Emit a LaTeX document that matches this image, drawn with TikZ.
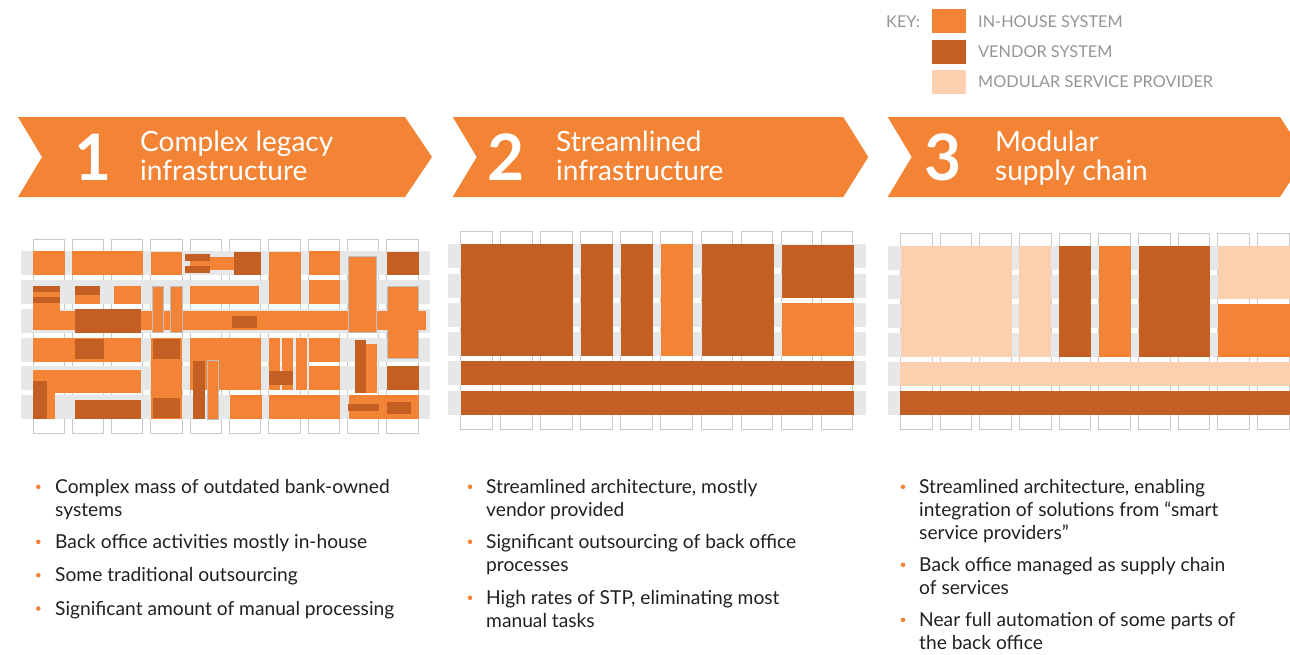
\documentclass[tikz,border=0pt]{standalone}
\usepackage{fontspec}
\setmainfont{Lato}
\definecolor{inh}{HTML}{F48435}
\definecolor{ven}{HTML}{C45F24}
\definecolor{mod}{HTML}{FCD0AE}
\definecolor{band}{HTML}{E6E7E8}
\definecolor{colline}{HTML}{CACACA}
\definecolor{outl}{HTML}{BDBDBD}
\definecolor{keygray}{HTML}{939598}
\definecolor{txt}{HTML}{231F20}
\newcommand\rc[5]{\fill[#1] (#2,#3) rectangle (#4,#5);}
\newcommand\ro[4]{\filldraw[fill=inh,draw=outl,line width=1] (#1,#2) rectangle (#3,#4);}
\begin{document}
\begin{tikzpicture}[x=1pt,y=-1pt,
  colbox/.style={draw=colline,fill=white,line width=1},
  banner/.style={fill=inh},
  digit/.style={text=white,font=\fontsize{64}{64}\selectfont\bfseries,inner sep=0,anchor=base west},
  title/.style={text=white,font=\fontsize{28}{29}\selectfont,align=left,inner sep=0,anchor=base west},
  keylabel/.style={text=keygray,font=\fontsize{16.3}{20}\selectfont,inner sep=0,anchor=base west},
  bul/.style={text=txt,font=\fontsize{19.2}{23}\selectfont,align=left,inner sep=0,anchor=base west},
  dot/.style={circle,fill=inh,inner sep=0,minimum size=4.6}]
\useasboundingbox (0,0) rectangle (1290,654);
% ---------- key
\node[keylabel] (key) at (886,27.3) {KEY:};
\fill[inh] (932,9) rectangle (966,33);
\fill[ven] (932,39.5) rectangle (966,63.5);
\fill[mod] (932,70) rectangle (966,94);
\node[keylabel] (k1) at (978,27.3) {IN-HOUSE SYSTEM};
\node[keylabel] (k2) at (978,57.6) {VENDOR SYSTEM};
\node[keylabel] (k3) at (978,87.6) {MODULAR SERVICE PROVIDER};
% ---------- banners
\fill[banner] (18,117) -- (405,117) -- (432,157) -- (405,197) -- (18,197) -- (42,157) -- cycle;
\fill[banner] (452.7,117) -- (843.3,117) -- (868.3,157) -- (843.3,197) -- (452.7,197) -- (476.7,157) -- cycle;
\fill[banner] (887.7,117) -- (1280,117) -- (1306,157) -- (1280,197) -- (887.7,197) -- (911.7,157) -- cycle;
\node[digit] (d1) at (74,180.7) {1};
\node[title] (t1) at (140,180.7) {Complex legacy\\infrastructure};
\node[digit] (d2) at (487,180.7) {2};
\node[title] (t2) at (556,180.7) {Streamlined\\infrastructure};
\node[digit] (d3) at (924,180.7) {3};
\node[title] (t3) at (995,180.7) {Modular\\supply chain};
% ---------- panel 1 grid
\foreach \i in {0,...,9} \draw[colbox] ({33+39.33*\i},239) rectangle +(31.3,194);
\foreach \y in {251,280,309,338,366,395} \fill[band] (21,\y) rectangle (430,{\y+24});
% row 1
\rc{inh}{33}{251}{65}{275}
\rc{inh}{72.3}{251}{143}{275}
\rc{inh}{151}{252}{182.3}{275}
\rc{inh}{190}{257}{235}{270}
\rc{ven}{185}{254}{210}{261}
\rc{ven}{185}{266}{210}{273}
\rc{ven}{234}{252}{261}{275}
\rc{inh}{269}{252}{301}{304}
\rc{inh}{309}{251}{340}{275}
\rc{inh}{309}{280}{340}{304}
\rc{ven}{387}{252}{419}{275}
% row 2
\rc{inh}{33}{286}{60}{330}
\rc{ven}{33}{286}{60}{292}
\rc{ven}{33}{297}{60}{303}
\rc{ven}{75}{286}{100}{295}
\rc{inh}{75}{295}{100}{304}
\rc{inh}{114}{286}{141}{304}
\rc{inh}{190}{286}{259}{304}
\ro{387.7}{286}{418.3}{358}
% row 3
\rc{inh}{33}{311}{426}{330}
\rc{ven}{75}{309}{141}{333}
\rc{ven}{232}{316}{257}{328}
\ro{152}{286}{163.7}{332}
\ro{170}{286}{182}{332}
\ro{348.3}{256}{376.7}{332}
% rows 4-6
\rc{inh}{33}{338}{141}{362}
\rc{ven}{75}{339}{104}{359}
\rc{inh}{151}{338}{182.3}{419}
\rc{ven}{153}{339}{180}{359}
\rc{ven}{153}{398}{180}{418}
\rc{inh}{190}{338}{261}{390}
\rc{ven}{193}{361}{205}{419}
\ro{207.3}{360}{218.7}{419}
\rc{inh}{269}{338}{280}{390}
\rc{inh}{282}{338}{293}{390}
\rc{inh}{296}{338}{307}{390}
\rc{ven}{269}{371}{293}{385}
\rc{inh}{309}{338}{340}{362}
\rc{inh}{309}{366}{340}{390}
\rc{ven}{355}{340}{366}{393}
\rc{inh}{366}{344}{377}{393}
\rc{inh}{33}{370}{141}{393}
\rc{inh}{33}{370}{55}{419}
\rc{ven}{33}{381}{47}{419}
\rc{ven}{387}{366}{419}{390}
\rc{ven}{75}{400}{141}{419}
\rc{inh}{230}{395}{262}{419}
\rc{inh}{269}{395}{340}{419}
\rc{inh}{349}{395}{419}{419}
\rc{ven}{348}{404}{379}{411}
\rc{ven}{387}{402}{411}{414}
% ---------- panel 2 grid
\foreach \i in {0,...,9} \draw[colbox] ({460.7+40.05*\i},231.3) rectangle +(31.7,198);
\foreach \y in {244,274,303,332,361,391} \fill[band] (448,\y) rectangle (866,{\y+23.7});
\rc{ven}{460.7}{244}{573}{355.7}
\rc{ven}{581.3}{244}{613}{355.7}
\rc{ven}{621.3}{244}{653}{355.7}
\rc{inh}{661.3}{244}{693}{355.7}
\rc{ven}{702}{244}{774}{355.7}
\rc{ven}{782}{245}{854}{297.7}
\rc{inh}{782}{303}{854}{355.7}
\rc{ven}{460.7}{361}{854}{385}
\rc{ven}{460.7}{391}{854}{415}
% ---------- panel 3 grid
\foreach \i in {0,...,9} \draw[colbox] ({900.3+39.7*\i},233.7) rectangle +(31.7,195.6);
\foreach \y in {246,275,304,333,362,391} \fill[band] (888,\y) rectangle (1292,{\y+24});
\rc{mod}{901}{246}{1012}{357}
\rc{mod}{1019}{246}{1051}{357}
\rc{ven}{1059}{246}{1091}{357}
\rc{inh}{1099}{246}{1131}{357}
\rc{ven}{1139}{246}{1210}{357}
\rc{mod}{1218}{246}{1292}{299}
\rc{inh}{1218}{304}{1292}{357}
\rc{mod}{900}{362}{1292}{386}
\rc{ven}{900}{391}{1292}{415}
% ---------- bullets panel 1 (anchor = baseline of last line)
\node[dot] (p11) at (38.3,486.8) {};
\node[bul] (b11) at (55,516.3) {Complex mass of outdated bank-owned\\systems};
\node[dot] (p12) at (38.3,541.8) {};
\node[bul] (b12) at (55,548.3) {Back office activities mostly in-house};
\node[dot] (p13) at (38.3,575.2) {};
\node[bul] (b13) at (55,581.7) {Some traditional outsourcing};
\node[dot] (p14) at (38.3,608.5) {};
\node[bul] (b14) at (55,615) {Significant amount of manual processing};
% ---------- bullets panel 2
\node[dot] (p21) at (470,486.8) {};
\node[bul] (b21) at (486,516.3) {Streamlined architecture, mostly\\vendor provided};
\node[dot] (p22) at (470,541.8) {};
\node[bul] (b22) at (486,571.3) {Significant outsourcing of back office\\processes};
\node[dot] (p23) at (470,597.8) {};
\node[bul] (b23) at (486,627.3) {High rates of STP, eliminating most\\manual tasks};
% ---------- bullets panel 3
\node[dot] (p31) at (903,486.8) {};
\node[bul] (b31) at (919,539.3) {Streamlined architecture, enabling\\integration of solutions from “smart\\service providers”};
\node[dot] (p32) at (903,564.8) {};
\node[bul] (b32) at (919,594.3) {Back office managed as supply chain\\of services};
\node[dot] (p33) at (903,619.8) {};
\node[bul] (b33) at (919,649.3) {Near full automation of some parts of\\the back office};
\end{tikzpicture}
\end{document}
